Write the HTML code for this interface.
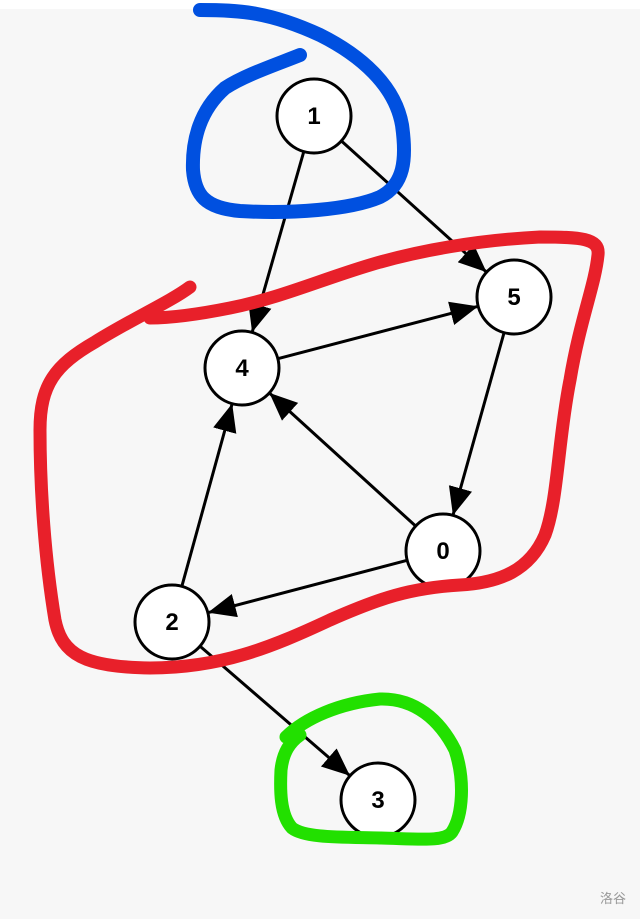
<!DOCTYPE html>
<html><head><meta charset="utf-8"><style>
html,body{margin:0;padding:0;background:#fff;}
svg{display:block;}
</style></head><body>
<svg width="640" height="919" viewBox="0 0 640 919" xmlns="http://www.w3.org/2000/svg">
<defs>
<marker id="a" markerUnits="userSpaceOnUse" markerWidth="30" markerHeight="26" refX="27" refY="12" orient="auto">
<path d="M0,0 L28,12 L0,24 z" fill="#000"/>
</marker>
</defs>
<rect x="0" y="9" width="640" height="910" fill="#f7f7f7"/>
<g stroke="#000" stroke-width="3" fill="none" marker-end="url(#a)">
<line x1="303.5" y1="152.6" x2="252.4" y2="331.4"/>
<line x1="342" y1="141.5" x2="485.8" y2="271.5"/>
<line x1="278.8" y1="358.4" x2="477.2" y2="306.6"/>
<line x1="503.8" y1="333.6" x2="453.2" y2="514.4"/>
<line x1="414.9" y1="525.4" x2="270.1" y2="393.6"/>
<line x1="406.2" y1="560.6" x2="208.8" y2="612.4"/>
<line x1="182.1" y1="585.4" x2="231.9" y2="404.6"/>
<line x1="200.8" y1="646.9" x2="349.2" y2="775.1"/>
</g>
<g stroke="#000" stroke-width="3" fill="#fff">
<circle cx="314" cy="116" r="37"/>
<circle cx="514" cy="297" r="37"/>
<circle cx="242" cy="368" r="37"/>
<circle cx="443" cy="551" r="37"/>
<circle cx="172" cy="622" r="37"/>
<circle cx="378" cy="800" r="37"/>
</g>
<g font-family="Liberation Sans, sans-serif" font-weight="bold" font-size="24" text-anchor="middle" fill="#000">
<text x="314" y="124">1</text>
<text x="514" y="305">5</text>
<text x="242" y="376">4</text>
<text x="443" y="559">0</text>
<text x="172" y="630">2</text>
<text x="378" y="808">3</text>
</g>
<g fill="none" stroke-linecap="round" stroke-linejoin="round">
<path stroke="#0050e0" stroke-width="14" d="M200,10 C240,10 270,12 320,35 C360,55 395,85 402,125 C407,160 404,185 380,197 C350,210 290,214 240,211 C205,208 195,195 193,170 C192,140 200,110 225,88 C245,75 275,65 300,55"/>
<path stroke="#e8202a" stroke-width="13" d="M190,287 C170,302 130,320 95,342 C55,365 40,385 40,430 C40,490 45,560 55,620 C62,655 85,667 150,668 C220,668 270,648 330,620 C380,598 410,588 460,585 C500,583 530,570 545,535 C558,500 558,440 570,380 C580,320 595,285 598,255 C600,238 580,237 540,237 C480,240 420,250 370,265 C320,280 280,298 230,308 C200,314 170,318 150,318"/>
<path stroke="#22e000" stroke-width="13" d="M286,737 C305,718 340,703 380,699 C415,698 440,720 455,750 C465,780 463,815 452,832 C445,842 420,839 380,838 C340,837 305,838 292,828 C280,815 280,790 281,770 C283,752 290,742 300,735"/>
</g>
<text x="613" y="903" font-family="Liberation Sans, Noto Sans CJK SC, sans-serif" font-size="13" fill="#999" text-anchor="middle">洛谷</text>
</svg>
</body></html>
